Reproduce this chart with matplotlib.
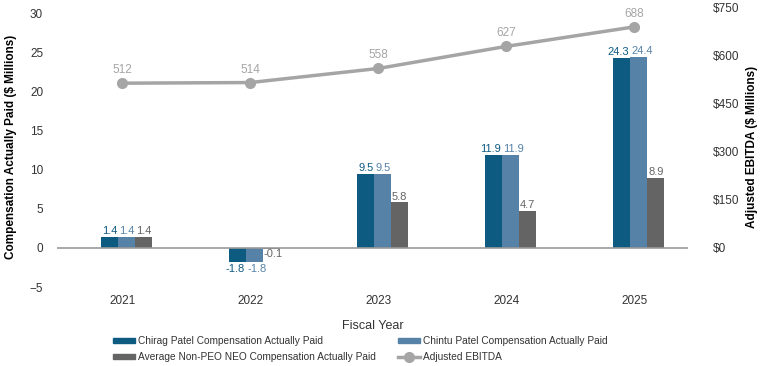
import numpy as np
import matplotlib
matplotlib.use("Agg")
import matplotlib.pyplot as plt
from matplotlib.lines import Line2D
import matplotlib.patches as mpatches

years   = ["2021", "2022", "2023", "2024", "2025"]
chirag  = [1.4, -1.8, 9.5, 11.9, 24.3]
chintu  = [1.4, -1.8, 9.5, 11.9, 24.4]
non_peo = [1.4, -0.1, 5.8, 4.7, 8.9]
ebitda  = [512, 514, 558, 627, 688]

C_CHIRAG = "#0e5b82"
C_CHINTU = "#5682a8"
C_NONPEO = "#646464"
C_LINE   = "#a5a5a5"
C_TEXT   = "#333333"

plt.rcParams["font.family"] = ["Liberation Sans", "DejaVu Sans"]

fig = plt.figure(figsize=(7.64, 3.66), dpi=100)
ax = fig.add_axes([0.0746, 0.2158, 0.8259, 0.765])
ax2 = ax.twinx()

x = np.arange(len(years))
w = 0.133
series = [(chirag, C_CHIRAG), (chintu, C_CHINTU), (non_peo, C_NONPEO)]
for i, (vals, col) in enumerate(series):
    xs = x + (i - 1) * w + 0.035
    ax.bar(xs, vals, width=w, color=col, zorder=2)
    for xi, v in zip(xs, vals):
        label = f"{v:.1f}"
        # long labels of the two PEO bars are pushed apart so they don't clash
        if len(label) >= 4 and i == 0:
            ha, tx = "right", xi + w / 2 - 0.01
        elif len(label) >= 4 and i == 1:
            ha, tx = "left", xi - w / 2 + 0.01
        else:
            ha, tx = "center", xi
        if v >= 0:
            ax.text(tx, v + 0.1, label, ha=ha, va="bottom", fontsize=8, color=col)
        elif v > -0.5:
            ax.text(xi - w / 2 + 0.005, -0.1, label, ha="left", va="top",
                    fontsize=8, color=col)
        else:
            ax.text(tx, v - 0.2, label, ha=ha, va="top", fontsize=8, color=col)

ax.axhline(0, color="#9a9a9a", linewidth=1.2, zorder=3)
ax.set_ylim(-5, 30.77)
ax.set_yticks(range(-5, 31, 5))
ax.set_xlim(-0.51, 4.42)
ax.set_xticks(x)
ax.set_xticklabels(years)
ax.set_ylabel("Compensation Actually Paid ($ Millions)", fontsize=8.5,
              fontweight="bold", labelpad=9)
ax.set_xlabel("Fiscal Year", fontsize=9, labelpad=9, color=C_TEXT)
ax.tick_params(axis="both", length=0, labelsize=8.5, colors=C_TEXT)
ax.tick_params(axis="x", pad=6)
ax.tick_params(axis="y", pad=10)

ax2.plot(x, ebitda, color=C_LINE, linewidth=2.5, marker="o", markersize=7,
         zorder=4)
for xi, v in zip(x, ebitda):
    ax2.text(xi, v + 22, f"{v}", ha="center", va="bottom", fontsize=8.5,
             color=C_LINE)
ax2.set_ylim(-125, 750)
ax2.set_yticks([0, 150, 300, 450, 600, 750])
ax2.set_yticklabels([f"${v}" for v in [0, 150, 300, 450, 600, 750]])
ax2.set_ylabel("Adjusted EBITDA ($ Millions)", fontsize=8.5, fontweight="bold",
               labelpad=5)
ax2.tick_params(axis="y", length=0, labelsize=8.5, pad=18, colors=C_TEXT)

for a in (ax, ax2):
    for s in a.spines.values():
        s.set_visible(False)

handles = [
    mpatches.Patch(color=C_CHIRAG, label="Chirag Patel Compensation Actually Paid"),
    mpatches.Patch(color=C_NONPEO, label="Average Non-PEO NEO Compensation Actually Paid"),
    mpatches.Patch(color=C_CHINTU, label="Chintu Patel Compensation Actually Paid"),
    Line2D([], [], color=C_LINE, linewidth=2.5, marker="o", markersize=7,
           label="Adjusted EBITDA"),
]
leg = fig.legend(handles=handles, ncol=2, loc="upper left",
                 bbox_to_anchor=(113 / 764, 1 - 336 / 366), frameon=False,
                 fontsize=7.3, handlelength=2.2, handleheight=0.45,
                 columnspacing=2.2, labelspacing=0.6, handletextpad=0.25,
                 borderpad=0, borderaxespad=0)
for t in leg.get_texts():
    t.set_color(C_TEXT)

fig.savefig("out.png", dpi=100)
